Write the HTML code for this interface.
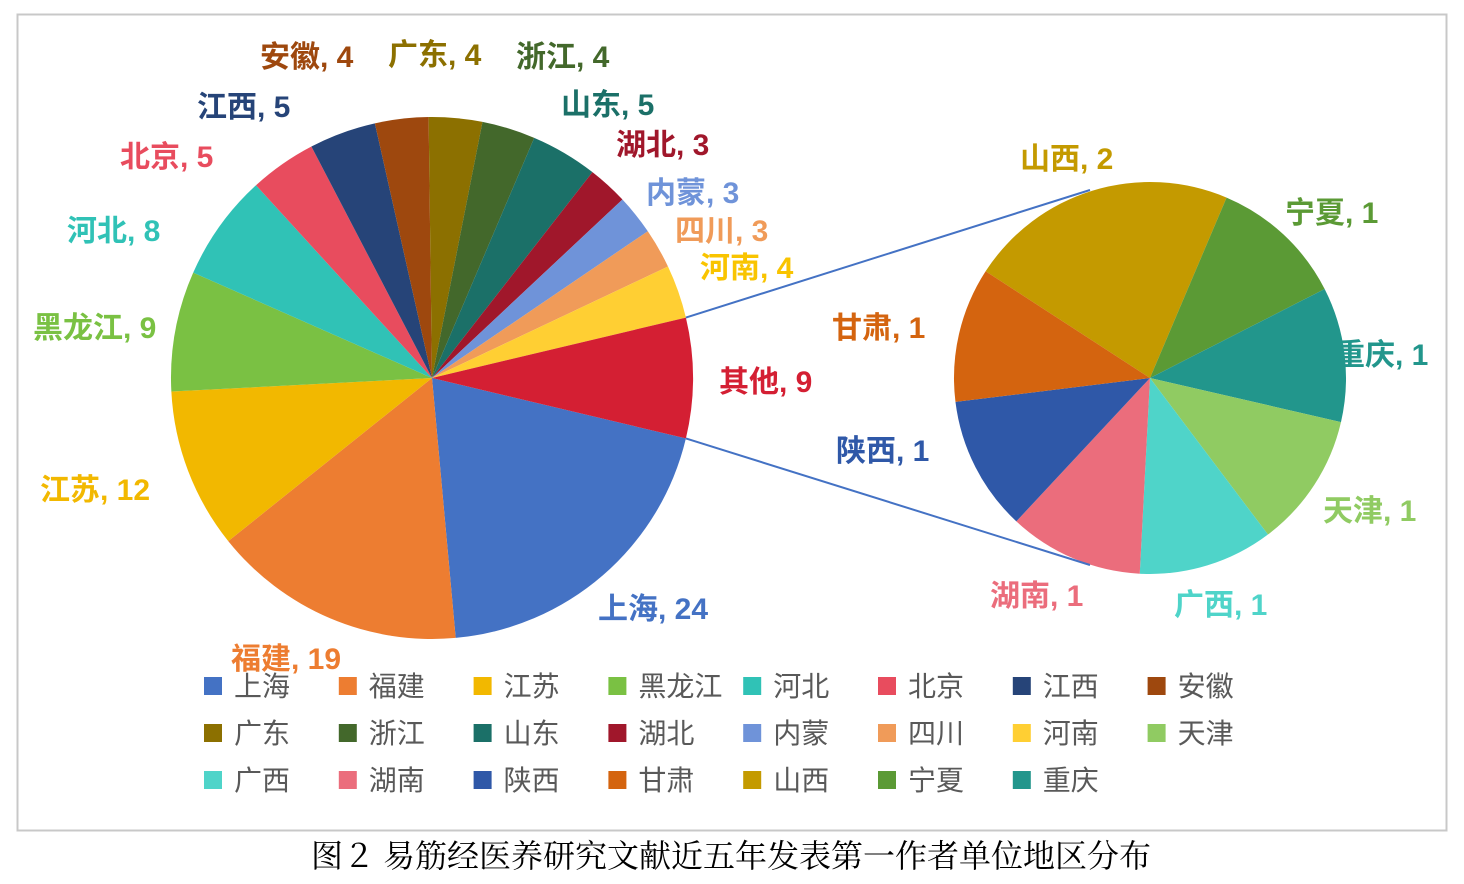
<!DOCTYPE html>
<html><head><meta charset="utf-8"><style>
html,body{margin:0;padding:0;background:#fff;}
svg{display:block;}
.lbl{font-family:"Liberation Sans","Noto Sans CJK SC",sans-serif;font-weight:bold;font-size:30px;}
.leg{font-family:"Liberation Sans","Noto Sans CJK SC",sans-serif;font-size:28px;fill:#595959;}
.cap{font-family:"Liberation Serif","Noto Serif CJK SC",serif;font-size:32px;fill:#000;}
</style></head><body>
<svg id="chart" width="1464" height="884" viewBox="0 0 1464 884">
<rect x="17.5" y="14.5" width="1429" height="816" fill="#fff" stroke="#c8c8c8" stroke-width="2"/>
<g id="labels"></g>
<g id="main"></g>
<g id="second"></g>
<g id="legend"></g>
<text class="cap" x="731" y="867" text-anchor="middle">图２ 易筋经医养研究文献近五年发表第一作者单位地区分布</text>
</svg>
<script>
const mainCats=["上海","福建","江苏","黑龙江","河北","北京","江西","安徽","广东","浙江","山东","湖北","内蒙","四川","河南","其他"];
const mainVals=[24,19,12,9,8,5,5,4,4,4,5,3,3,3,4,9];
const secCats=["山西","宁夏","重庆","天津","广西","湖南","陕西","甘肃"];
const secVals=[2,1,1,1,1,1,1,1];
const legendCats=["上海","福建","江苏","黑龙江","河北","北京","江西","安徽","广东","浙江","山东","湖北","内蒙","四川","河南","天津","广西","湖南","陕西","甘肃","山西","宁夏","重庆"];
const colors={"上海":"#4472C4","福建":"#ED7D31","江苏":"#F2B800","黑龙江":"#7AC143","河北":"#30C2B6","北京":"#E84C5E","江西":"#264478","安徽":"#9E480E","广东":"#8C7000","浙江":"#43682B","山东":"#1B7068","湖北":"#A0172B","内蒙":"#6F93D9","四川":"#F09B59","河南":"#FFCF33","其他":"#D41F33","天津":"#90CB62","广西":"#4FD4C9","湖南":"#EB6D7C","陕西":"#2F58A8","甘肃":"#D4640F","山西":"#C49A00","宁夏":"#5B9A35","重庆":"#22968C"};
const labelColors={"江苏":"#F2B800","河南":"#F9C400","其他":"#D41F33"};
const mainLabelPos=[[598,619],[231,669],[40,500],[33,338],[67,241],[120,167],[197,117],[260,67],[388,65],[516,67],[561,115],[616,155],[646,203],[675,241],[700,278],[719,392]];
const secLabelPos=[[1020,169],[1285,223],[1335,365],[1323,521],[1174,615],[990,606],[836,461],[832,338]];
const NS="http://www.w3.org/2000/svg";
function arc(cx,cy,r,a0,a1){const p=a=>[cx+r*Math.cos(a*Math.PI/180),cy+r*Math.sin(a*Math.PI/180)];const s=p(a0),e=p(a1);const large=(a1-a0)>180?1:0;return `M${cx},${cy}L${s[0]},${s[1]}A${r},${r} 0 ${large} 1 ${e[0]},${e[1]}Z`;}
function pie(g,cats,vals,cx,cy,r,start,pos,nm){
 const tot=vals.reduce((a,b)=>a+b,0);let a=start;const res=[];
 cats.forEach((c,i)=>{const sp=vals[i]/tot*360;const p=document.createElementNS(NS,"path");
  p.setAttribute("d",arc(cx,cy,r,a,a+sp));p.setAttribute("fill",colors[c]);
  
  
  g.appendChild(p);res.push([a,a+sp]);
  const t=document.createElementNS(NS,"text");t.setAttribute("class","lbl");t.setAttribute("x",pos[i][0]);t.setAttribute("y",pos[i][1]);
  t.setAttribute("fill",labelColors[c]||colors[c]);t.textContent=c+", "+vals[i];
  
  
  document.getElementById("labels").appendChild(t);
  a+=sp;});
 return res;}
const mtot=mainVals.reduce((a,b)=>a+b,0);
const otherSpan=mainVals[mainVals.length-1]/mtot*360;
pie(document.getElementById("main"),mainCats,mainVals,432,378,261,otherSpan/2,mainLabelPos,"main");
pie(document.getElementById("second"),secCats,secVals,1150,378,196,-147,secLabelPos,"secondary");
// connectors
[[-otherSpan/2,1090,190],[otherSpan/2,1090,565]].forEach((c,i)=>{const l=document.createElementNS(NS,"line");
 const x=432+261*Math.cos(c[0]*Math.PI/180),y=378+261*Math.sin(c[0]*Math.PI/180);
 l.setAttribute("x1",x);l.setAttribute("y1",y);l.setAttribute("x2",c[1]);l.setAttribute("y2",c[2]);
 l.setAttribute("stroke","#4472C4");l.setAttribute("stroke-width","2");
 
 
 document.getElementById("chart").appendChild(l);});
const lg=document.getElementById("legend");
legendCats.forEach((c,i)=>{const col=i%8,row=Math.floor(i/8);const x=204+col*134.8,y=686+row*47;
 const g=document.createElementNS(NS,"g");
 
 
 const r=document.createElementNS(NS,"rect");r.setAttribute("x",x);r.setAttribute("y",y-9);r.setAttribute("width",18);r.setAttribute("height",18);r.setAttribute("fill",colors[c]);
 const t=document.createElementNS(NS,"text");t.setAttribute("class","leg");t.setAttribute("x",x+30);t.setAttribute("y",y+10);t.textContent=c;
 g.appendChild(r);g.appendChild(t);lg.appendChild(g);});
</script>
</body></html>
